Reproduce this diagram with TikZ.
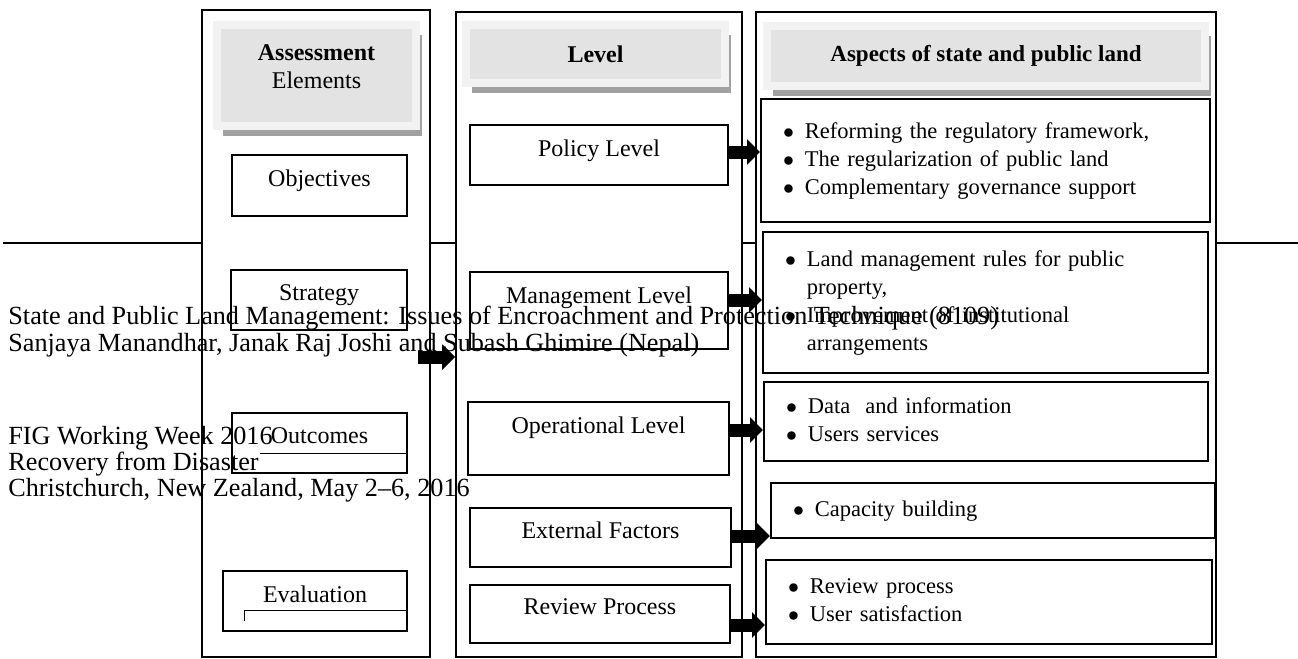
\documentclass[tikz,border=0pt]{standalone}
\usepackage{fontspec}
\setmainfont{Liberation Serif}
\usetikzlibrary{arrows.meta,shadows}

\definecolor{hdout}{gray}{0.95}
\definecolor{hdin}{gray}{0.89}
\definecolor{hdshade}{gray}{0.63}

\tikzset{
  column/.style={draw, line width=0.9pt, fill=white},
  header/.style={fill=hdin, draw=hdout, line width=4pt,
    drop shadow={shadow xshift=3pt, shadow yshift=-5pt, fill=hdshade, opacity=1},
    font=\fontsize{12}{14}\selectfont\bfseries},
  elembox/.style={draw, line width=0.9pt, fill=white, text depth=7pt,
    font=\fontsize{12}{14}\selectfont},
  aspbox/.style={draw, line width=1pt, fill=white, align=left, inner xsep=11pt,
    text width=#1, font=\fontsize{11.25}{14}\selectfont},
  bigarrow/.style={-{Triangle[length=6.5pt,width=12.5pt]}, line width=6.5pt},
  footer/.style={anchor=base west, inner sep=0pt, font=\fontsize{13.1}{15}\selectfont}
}

\newcommand{\blt}{$\bullet$}

\begin{document}
\begin{tikzpicture}[x=0.5pt, y=-0.5pt]
  \useasboundingbox (0,0) rectangle (1298,659);

  % page rule behind the figure
  \draw[line width=0.9pt] (3,243) -- (1298,243);

  % the three columns
  \node[column, minimum width=114pt, minimum height=323.5pt] (colA) at (316,333.5) {};
  \node[column, minimum width=143pt, minimum height=322.5pt] (colB) at (599,334.5) {};
  \node[column, line width=1pt, minimum width=230pt, minimum height=322.5pt] (colC) at (986,334.5) {};

  % headers
  \node[header, minimum width=99.5pt, minimum height=50.5pt] (hdA) at (316.5,75.5) {};
  \node[align=center, font=\fontsize{12}{14}\selectfont] (hdAtxt) at (316.5,67)
    {\textbf{Assessment}\\Elements};
  \node[header, minimum width=129.5pt, minimum height=29pt] (hdB) at (595.5,54) {Level};
  \node[header, font=\fontsize{11.5}{14}\selectfont\bfseries, minimum width=219pt, minimum height=30pt] (hdC) at (986,56)
    {Aspects of state and public land};

  % assessment elements
  \node[elembox, minimum width=87.5pt, minimum height=30.5pt] (obj) at (319.5,185.5) {Objectives};
  \node[elembox, minimum width=88pt, minimum height=30pt] (strat) at (319,300) {Strategy};
  \node[elembox, minimum width=87.5pt, minimum height=30pt] (outc) at (319.5,443) {Outcomes};
  \node[elembox, minimum width=92pt, minimum height=30pt] (eval) at (315,601) {Evaluation};
  \draw[line width=0.5pt] (260,453) -- (406,453) -- (406,463);
  \draw[line width=0.5pt] (244,621) -- (244,610) -- (406,610) -- (406,622);

  % levels
  \node[elembox, minimum width=129pt, minimum height=30pt] (pol) at (599,155) {Policy Level};
  \node[elembox, minimum width=129pt, minimum height=38.5pt, text depth=15.5pt] (mgmt) at (599,310.5) {Management Level};
  \node[elembox, minimum width=130.5pt, minimum height=36.5pt, text depth=13.5pt] (oper) at (598.5,438.5) {Operational Level};
  \node[elembox, minimum width=130.5pt, minimum height=29.5pt] (ext) at (600.5,537.5) {External Factors};
  \node[elembox, minimum width=130pt, minimum height=29pt] (rev) at (600,614) {Review Process};

  % aspects
  \node[aspbox=202.5pt, minimum height=61.5pt] (asA) at (985.5,160.5)
    {\begin{tabular}{@{}l@{\hspace{5.5pt}}l@{}}
      \blt & Reforming the regulatory framework,\\
      \blt & The regularization of public land\\
      \blt & Complementary governance support
    \end{tabular}};
  \node[aspbox=200.5pt, minimum height=70.5pt] (asB) at (985.5,302.5)
    {\begin{tabular}{@{}l@{\hspace{5.5pt}}l@{}}
      \blt & Land management rules for public\\
           & property,\\
      \blt & Improvement of institutional\\
           & arrangements
    \end{tabular}};
  \node[aspbox=200pt, minimum height=39.5pt] (asC) at (986,421.5)
    {\begin{tabular}{@{}l@{\hspace{5.5pt}}l@{}}
      \blt & Data~ and information\\
      \blt & Users services
    \end{tabular}};
  \node[aspbox=200pt, minimum height=27.5pt] (asD) at (993,510.5)
    {\begin{tabular}{@{}l@{\hspace{5.5pt}}l@{}}
      \blt & Capacity building
    \end{tabular}};
  \node[aspbox=201pt, minimum height=42pt] (asE) at (989,602)
    {\begin{tabular}{@{}l@{\hspace{5.5pt}}l@{}}
      \blt & Review process\\
      \blt & User satisfaction
    \end{tabular}};

  % block arrows
  \draw[bigarrow] ([xshift=-6.5pt,yshift=-11.75pt]colA.east) -- ([yshift=-11.75pt]colA.east -| colB.west);
  \draw[bigarrow] ([yshift=1.5pt]pol.east) -- ([yshift=1.5pt]pol.east -| asA.west);
  \draw[bigarrow] ([yshift=5.25pt]mgmt.east) -- ([yshift=5.25pt]mgmt.east -| asB.west);
  \draw[bigarrow] ([yshift=4.25pt]oper.east) -- ([yshift=4.25pt]oper.east -| asC.west);
  \draw[bigarrow] ([yshift=0.75pt]ext.east) -- ([yshift=0.75pt]ext.east -| asD.west);
  \draw[bigarrow] ([yshift=-5.5pt]rev.east) -- ([yshift=-5.5pt]rev.east -| asE.west);

  % page footer printed over the figure
  \node[footer] (ft1) at (8,324) {State and Public Land Management: Issues of Encroachment and Protection Technique (8109)};
  \node[footer] (ft2) at (8,351) {Sanjaya Manandhar, Janak Raj Joshi and Subash Ghimire (Nepal)};
  \node[footer] (ft3) at (8,444) {FIG Working Week 2016};
  \node[footer] (ft4) at (8,470) {Recovery from Disaster};
  \node[footer] (ft5) at (8,496) {Christchurch, New Zealand, May 2–6, 2016};
\end{tikzpicture}
\end{document}
